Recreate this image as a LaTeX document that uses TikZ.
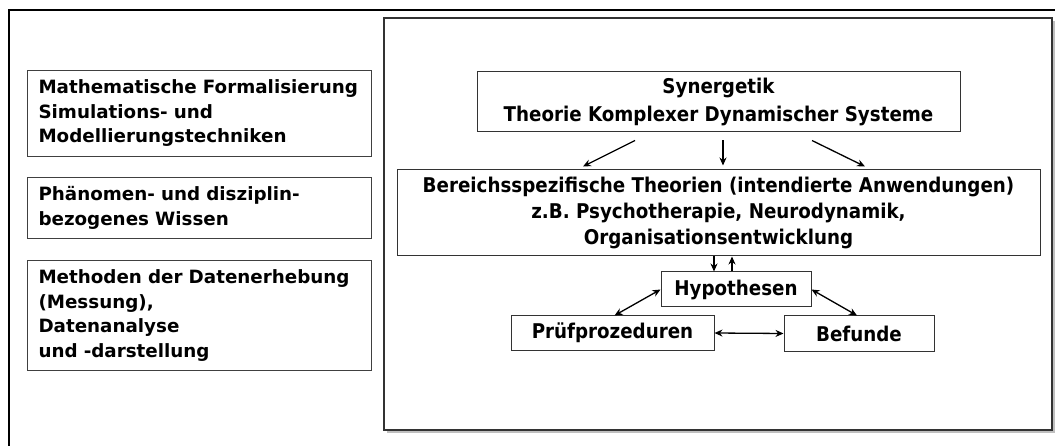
\documentclass[tikz,border=0pt]{standalone}
\usepackage{fontspec}
\setmainfont{DejaVu Sans}
\newfontfamily\condfont{DejaVu Sans Condensed}
\usetikzlibrary{arrows.meta}

\begin{document}
\begin{tikzpicture}[x=1pt, y=-1pt,
  leftbox/.style={draw=black!75, line width=1pt, anchor=north west, inner xsep=11pt,
    text width=322pt, align=left, font=\bfseries\fontsize{18.3}{24.5}\selectfont},
  theobox/.style={draw=black!80, line width=1pt, align=center,
    font=\condfont\bfseries\fontsize{20.3}{26}\selectfont},
  arr/.style={line width=1.3pt, -{Stealth[length=8pt,width=7pt]}},
  darr/.style={line width=1.3pt, {Stealth[length=8pt,width=7pt]}-{Stealth[length=8pt,width=7pt]}}]
\useasboundingbox (0,0) rectangle (1055,446);
% frames
\draw[line width=2.5pt] (9,446) -- (9,10) -- (1055,10);
\draw[black!25, line width=2pt] (387,432) -- (1054,432) -- (1054,21);
\draw[black!80, line width=1.3pt] (384,18) rectangle (1052,430);
% left column
\node[leftbox, minimum height=86pt] (math) at (27,70) {Mathematische Formalisierung\\Simulations- und\\Modellierungstechniken};
\node[leftbox, minimum height=61pt] (wissen) at (27,177) {Phänomen- und disziplin-\\bezogenes Wissen};
\node[leftbox, minimum height=110pt] (methoden) at (27,260) {Methoden der Datenerhebung\\(Messung),\\Datenanalyse\\und -darstellung};
% right column
\node[theobox, minimum width=483pt, minimum height=60pt, font=\condfont\bfseries\fontsize{20.3}{28}\selectfont] (syn) at (718.5,102) {Synergetik\\Theorie Komplexer Dynamischer Systeme};
\node[theobox, minimum width=643pt, minimum height=86pt] (ber) at (718.5,213) {Bereichsspezifische Theorien (intendierte Anwendungen)\\z.B. Psychotherapie, Neurodynamik,\\Organisationsentwicklung};
\node[theobox, minimum width=150pt, minimum height=35pt] (hyp) at (736,289.5) {Hypothesen};
\node[theobox, minimum width=203pt, minimum height=34pt] (pruef) at (612.5,333) {Prüfprozeduren};
\node[theobox, minimum width=150pt, minimum height=35pt] (bef) at (859,333.5) {Befunde};
% connectors
\draw[arr] ([xshift=-83.5pt,yshift=-8pt]syn.south) -- ([xshift=-135.5pt,yshift=3pt]ber.north);
\draw[arr] ([xshift=4.5pt,yshift=-8pt]syn.south) -- ([xshift=4.5pt,yshift=4pt]ber.north);
\draw[arr] ([xshift=93.5pt,yshift=-8pt]syn.south) -- ([xshift=146.5pt,yshift=3pt]ber.north);
\draw[arr] ([xshift=-22pt]hyp.north |- ber.south) -- ([xshift=-22pt]hyp.north);
\draw[arr] ([xshift=-4pt]hyp.north) -- ([xshift=-4pt]hyp.north |- ber.south);
\draw[darr] (hyp.west) -- ([xshift=2pt]pruef.north);
\draw[darr] (hyp.east) -- ([xshift=-2pt]bef.north);
\draw[darr] (pruef.east) -- (bef.west);
\end{tikzpicture}
\end{document}
